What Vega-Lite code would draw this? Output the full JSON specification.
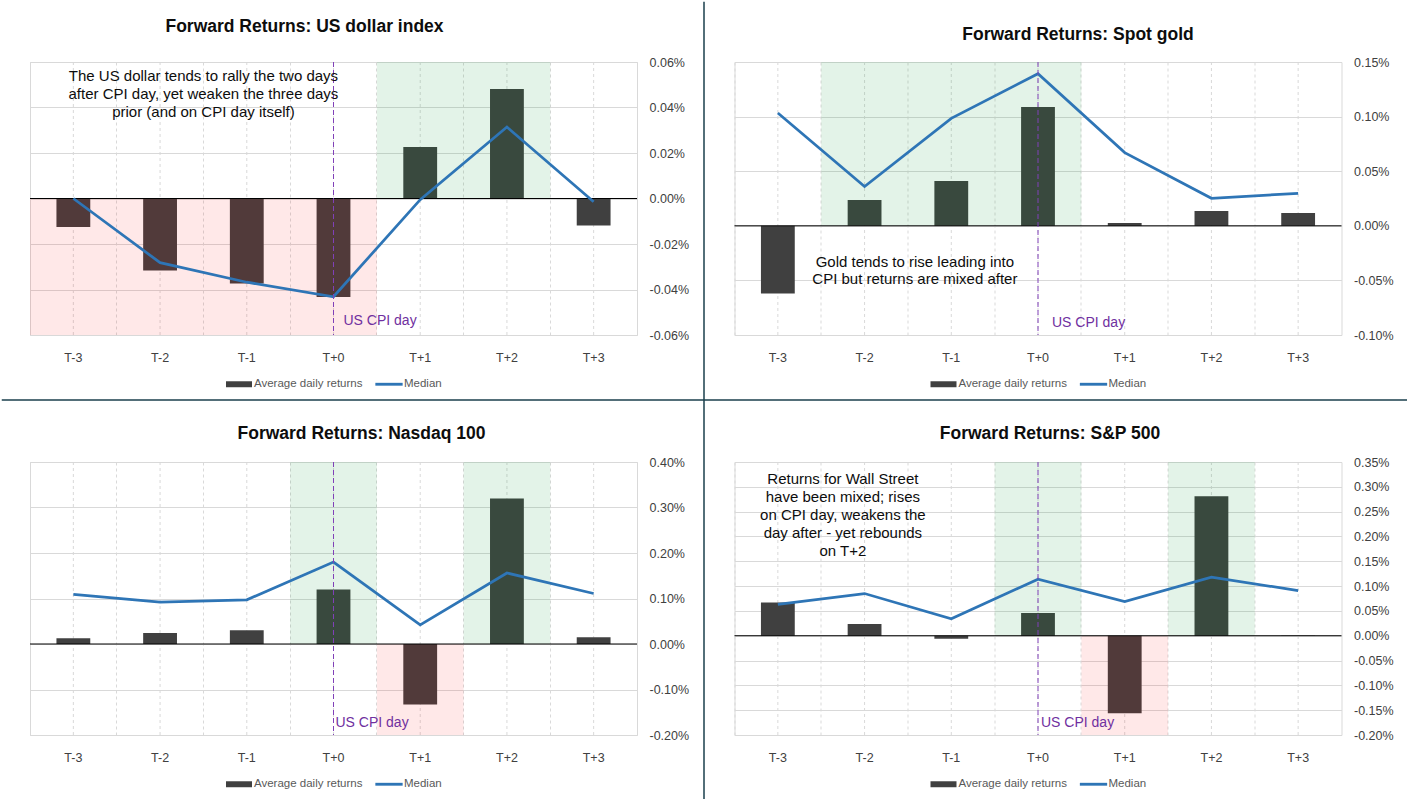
{
  "$schema": "https://vega.github.io/schema/vega-lite/v6.json",
  "background": "white",
  "padding": 0,
  "bounds": "flush",
  "spacing": 400,
  "resolve": {"scale": {"color": "independent", "x": "independent", "y": "independent"}, "legend": {"color": "independent"}},
  "vconcat": [
    {
      "hconcat": [
        {
          "width": 607, "height": 273,
          "title": {"text": "Forward Returns: US dollar index", "dx": -29, "offset": 21},
          "data": {"values": [
            {"day": "T-3", "avg": -0.000125, "median": 0.0, "zone": "down"},
            {"day": "T-2", "avg": -0.000316, "median": -0.000282, "zone": "down"},
            {"day": "T-1", "avg": -0.000374, "median": -0.000368, "zone": "down"},
            {"day": "T+0", "avg": -0.000433, "median": -0.000432, "zone": "down"},
            {"day": "T+1", "avg": 0.000226, "median": -0.000005, "zone": "up"},
            {"day": "T+2", "avg": 0.000481, "median": 0.000314, "zone": "up"},
            {"day": "T+3", "avg": -0.000119, "median": -0.000014}
          ]},
          "layer": [
            {"mark": {"type": "rule", "color": "#D9D9D9", "strokeDash": [3, 3], "strokeWidth": 1},
             "encoding": {"x": {"field": "day", "type": "nominal", "sort": null,
               "scale": {"domain": ["T-3", "T-2", "T-1", "T+0", "T+1", "T+2", "T+3"], "paddingInner": 0, "paddingOuter": 0},
               "axis": {"title": null, "orient": "bottom", "domain": false, "ticks": false, "labelPadding": 16, "labelAngle": 0, "grid": true, "gridColor": "#D9D9D9", "gridDash": [3, 3], "bandPosition": 0}}}},
            {"mark": {"type": "bar", "width": {"band": 0.39}},
             "encoding": {"x": {"field": "day", "type": "nominal", "sort": null},
               "y": {"field": "avg", "type": "quantitative", "scale": {"domain": [-0.0006, 0.0006], "nice": false, "zero": false},
                 "axis": {"title": null, "orient": "right", "values": [-0.0006, -0.0004, -0.0002, 0, 0.0002, 0.0004, 0.0006], "tickCount": 7, "format": ".2%", "domain": false, "ticks": false, "labelPadding": 12, "grid": true, "gridColor": "#D9D9D9"}},
               "color": {"datum": "Average daily returns", "type": "nominal",
                 "scale": {"domain": ["Average daily returns", "Median"], "range": ["#404040", "#2E75B6"]},
                 "legend": {"orient": "bottom", "direction": "horizontal", "title": null, "offset": 7, "symbolSize": 676, "symbolStrokeWidth": 0, "columnPadding": 12, "labelOffset": 2,
                   "encode": {"symbols": {"update": {
                     "shape": {"signal": "datum.value === 'Median' ? 'M-1.05,-0.11L1.05,-0.11L1.05,0.11L-1.05,0.11Z' : 'M-1,-0.23L1,-0.23L1,0.23L-1,0.23Z'"},
                     "fill": {"signal": "datum.value === 'Median' ? '#2E75B6' : '#404040'"},
                     "opacity": {"value": 1}}}}}}}},
            {"transform": [{"filter": "datum.zone === 'up'"}],
             "mark": {"type": "bar", "width": {"band": 1}, "color": "#009632", "opacity": 0.11},
             "encoding": {"x": {"field": "day", "type": "nominal", "sort": null}, "y": {"datum": 0.0006}, "y2": {"datum": 0}}},
            {"transform": [{"filter": "datum.zone === 'down'"}],
             "mark": {"type": "bar", "width": {"band": 1}, "color": "#FF0000", "opacity": 0.09},
             "encoding": {"x": {"field": "day", "type": "nominal", "sort": null}, "y": {"datum": -0.0006}, "y2": {"datum": 0}}},
            {"data": {"values": [{}]}, "mark": {"type": "rule", "color": "#000000", "strokeWidth": 1}, "encoding": {"y": {"datum": 0}}},
            {"mark": {"type": "line", "strokeWidth": 2.75},
             "encoding": {"x": {"field": "day", "type": "nominal", "sort": null}, "y": {"field": "median", "type": "quantitative"}, "color": {"datum": "Median", "type": "nominal"}}},
            {"data": {"values": [{}]}, "mark": {"type": "rule", "color": "#8040B8", "strokeDash": [5, 3], "strokeWidth": 1}, "encoding": {"x": {"datum": "T+0"}}},
            {"data": {"values": [{"note": "US CPI day"}]},
             "mark": {"type": "text", "align": "left", "baseline": "middle", "dx": 10, "color": "#7030A0", "fontSize": 14},
             "encoding": {"x": {"datum": "T+0"}, "y": {"datum": -0.000538}, "text": {"field": "note"}}},
            {"data": {"values": [{"note": ["The US dollar tends to rally the two days", "after CPI day, yet weaken the three days", "prior (and on CPI day itself)"]}]},
             "mark": {"type": "text", "align": "center", "baseline": "top", "lineHeight": 18, "fontSize": 15, "color": "#0D0D0D"},
             "encoding": {"x": {"datum": "T-1", "bandPosition": 0}, "y": {"datum": 0.000569}, "text": {"field": "note"}}},
            {"data": {"values": [{}]}, "mark": {"type": "rule", "color": "#1A3F4D", "strokeWidth": 1.5},
             "encoding": {"x": {"datum": "T-3", "bandPosition": -0.32578}, "x2": {"datum": "T-3", "bandPosition": 15.8827}, "y": {"datum": -0.0008857}}}
          ]
        },
        {
          "width": 607, "height": 273,
          "title": {"text": "Forward Returns: Spot gold", "dx": 40, "offset": -43},
          "data": {"values": [
            {"day": "T-3", "avg": -0.00062, "median": 0.001033},
            {"day": "T-2", "avg": 0.000236, "median": 0.00036, "zone": "up"},
            {"day": "T-1", "avg": 0.00041, "median": 0.000984, "zone": "up"},
            {"day": "T+0", "avg": 0.001088, "median": 0.001393, "zone": "up"},
            {"day": "T+1", "avg": 0.000026, "median": 0.00067},
            {"day": "T+2", "avg": 0.000136, "median": 0.000252},
            {"day": "T+3", "avg": 0.000117, "median": 0.000298}
          ]},
          "layer": [
            {"mark": {"type": "rule", "color": "#D9D9D9", "strokeDash": [3, 3], "strokeWidth": 1},
             "encoding": {"x": {"field": "day", "type": "nominal", "sort": null,
               "scale": {"domain": ["T-3", "T-2", "T-1", "T+0", "T+1", "T+2", "T+3"], "paddingInner": 0, "paddingOuter": 0},
               "axis": {"title": null, "orient": "bottom", "domain": false, "ticks": false, "labelPadding": 16, "labelAngle": 0, "grid": true, "gridColor": "#D9D9D9", "gridDash": [3, 3], "bandPosition": 0}}}},
            {"mark": {"type": "bar", "width": {"band": 0.39}},
             "encoding": {"x": {"field": "day", "type": "nominal", "sort": null},
               "y": {"field": "avg", "type": "quantitative", "scale": {"domain": [-0.001, 0.0015], "nice": false, "zero": false},
                 "axis": {"title": null, "orient": "right", "values": [-0.001, -0.0005, 0, 0.0005, 0.001, 0.0015], "tickCount": 6, "format": ".2%", "domain": false, "ticks": false, "labelPadding": 12, "grid": true, "gridColor": "#D9D9D9"}},
               "color": {"datum": "Average daily returns", "type": "nominal",
                 "scale": {"domain": ["Average daily returns", "Median"], "range": ["#404040", "#2E75B6"]},
                 "legend": {"orient": "bottom", "direction": "horizontal", "title": null, "offset": 7, "symbolSize": 676, "symbolStrokeWidth": 0, "columnPadding": 12, "labelOffset": 2,
                   "encode": {"symbols": {"update": {
                     "shape": {"signal": "datum.value === 'Median' ? 'M-1.05,-0.11L1.05,-0.11L1.05,0.11L-1.05,0.11Z' : 'M-1,-0.23L1,-0.23L1,0.23L-1,0.23Z'"},
                     "fill": {"signal": "datum.value === 'Median' ? '#2E75B6' : '#404040'"},
                     "opacity": {"value": 1}}}}}}}},
            {"transform": [{"filter": "datum.zone === 'up'"}],
             "mark": {"type": "bar", "width": {"band": 1}, "color": "#009632", "opacity": 0.11},
             "encoding": {"x": {"field": "day", "type": "nominal", "sort": null}, "y": {"datum": 0.0015}, "y2": {"datum": 0}}},
            {"data": {"values": [{}]}, "mark": {"type": "rule", "color": "#000000", "strokeWidth": 1}, "encoding": {"y": {"datum": 0}}},
            {"mark": {"type": "line", "strokeWidth": 2.75},
             "encoding": {"x": {"field": "day", "type": "nominal", "sort": null}, "y": {"field": "median", "type": "quantitative"}, "color": {"datum": "Median", "type": "nominal"}}},
            {"data": {"values": [{}]}, "mark": {"type": "rule", "color": "#8040B8", "strokeDash": [5, 3], "strokeWidth": 1}, "encoding": {"x": {"datum": "T+0"}}},
            {"data": {"values": [{"note": "US CPI day"}]},
             "mark": {"type": "text", "align": "left", "baseline": "middle", "dx": 14, "color": "#7030A0", "fontSize": 14},
             "encoding": {"x": {"datum": "T+0"}, "y": {"datum": -0.00089}, "text": {"field": "note"}}},
            {"data": {"values": [{"note": ["Gold tends to rise leading into", "CPI but returns are mixed after"]}]},
             "mark": {"type": "text", "align": "center", "baseline": "top", "lineHeight": 17.5, "fontSize": 15, "color": "#0D0D0D"},
             "encoding": {"x": {"datum": "T-1", "bandPosition": 0.08}, "y": {"datum": -0.000267}, "text": {"field": "note"}}},
            {"data": {"values": [{}]}, "mark": {"type": "rule", "color": "#1A3F4D", "strokeWidth": 1.5},
             "encoding": {"x": {"datum": "T-3", "bandPosition": -0.35173}, "y": {"datum": 0.00205174}, "y2": {"datum": -0.0052514}}}
          ]
        }
      ],
      "spacing": 97.5,
      "bounds": "flush",
      "resolve": {"scale": {"color": "independent", "x": "independent", "y": "independent"}, "legend": {"color": "independent"}}
    },
    {
      "hconcat": [
        {
          "width": 607, "height": 273,
          "title": {"text": "Forward Returns: Nasdaq 100", "dx": 28, "offset": 14},
          "data": {"values": [
            {"day": "T-3", "avg": 0.000125, "median": 0.00109},
            {"day": "T-2", "avg": 0.00024, "median": 0.00092},
            {"day": "T-1", "avg": 0.0003, "median": 0.00097},
            {"day": "T+0", "avg": 0.0012, "median": 0.0018, "zone": "up"},
            {"day": "T+1", "avg": -0.00133, "median": 0.00042, "zone": "down"},
            {"day": "T+2", "avg": 0.0032, "median": 0.00156, "zone": "up"},
            {"day": "T+3", "avg": 0.00015, "median": 0.00111}
          ]},
          "layer": [
            {"mark": {"type": "rule", "color": "#D9D9D9", "strokeDash": [3, 3], "strokeWidth": 1},
             "encoding": {"x": {"field": "day", "type": "nominal", "sort": null,
               "scale": {"domain": ["T-3", "T-2", "T-1", "T+0", "T+1", "T+2", "T+3"], "paddingInner": 0, "paddingOuter": 0},
               "axis": {"title": null, "orient": "bottom", "domain": false, "ticks": false, "labelPadding": 16, "labelAngle": 0, "grid": true, "gridColor": "#D9D9D9", "gridDash": [3, 3], "bandPosition": 0}}}},
            {"mark": {"type": "bar", "width": {"band": 0.39}},
             "encoding": {"x": {"field": "day", "type": "nominal", "sort": null},
               "y": {"field": "avg", "type": "quantitative", "scale": {"domain": [-0.002, 0.004], "nice": false, "zero": false},
                 "axis": {"title": null, "orient": "right", "values": [-0.002, -0.001, 0, 0.001, 0.002, 0.003, 0.004], "tickCount": 7, "format": ".2%", "domain": false, "ticks": false, "labelPadding": 12, "grid": true, "gridColor": "#D9D9D9"}},
               "color": {"datum": "Average daily returns", "type": "nominal",
                 "scale": {"domain": ["Average daily returns", "Median"], "range": ["#404040", "#2E75B6"]},
                 "legend": {"orient": "bottom", "direction": "horizontal", "title": null, "offset": 7, "symbolSize": 676, "symbolStrokeWidth": 0, "columnPadding": 12, "labelOffset": 2,
                   "encode": {"symbols": {"update": {
                     "shape": {"signal": "datum.value === 'Median' ? 'M-1.05,-0.11L1.05,-0.11L1.05,0.11L-1.05,0.11Z' : 'M-1,-0.23L1,-0.23L1,0.23L-1,0.23Z'"},
                     "fill": {"signal": "datum.value === 'Median' ? '#2E75B6' : '#404040'"},
                     "opacity": {"value": 1}}}}}}}},
            {"transform": [{"filter": "datum.zone === 'up'"}],
             "mark": {"type": "bar", "width": {"band": 1}, "color": "#009632", "opacity": 0.11},
             "encoding": {"x": {"field": "day", "type": "nominal", "sort": null}, "y": {"datum": 0.004}, "y2": {"datum": 0}}},
            {"transform": [{"filter": "datum.zone === 'down'"}],
             "mark": {"type": "bar", "width": {"band": 1}, "color": "#FF0000", "opacity": 0.09},
             "encoding": {"x": {"field": "day", "type": "nominal", "sort": null}, "y": {"datum": -0.002}, "y2": {"datum": 0}}},
            {"data": {"values": [{}]}, "mark": {"type": "rule", "color": "#000000", "strokeWidth": 1}, "encoding": {"y": {"datum": 0}}},
            {"mark": {"type": "line", "strokeWidth": 2.75},
             "encoding": {"x": {"field": "day", "type": "nominal", "sort": null}, "y": {"field": "median", "type": "quantitative"}, "color": {"datum": "Median", "type": "nominal"}}},
            {"data": {"values": [{}]}, "mark": {"type": "rule", "color": "#8040B8", "strokeDash": [5, 3], "strokeWidth": 1}, "encoding": {"x": {"datum": "T+0"}}},
            {"data": {"values": [{"note": "US CPI day"}]},
             "mark": {"type": "text", "align": "left", "baseline": "middle", "dx": 2, "color": "#7030A0", "fontSize": 14},
             "encoding": {"x": {"datum": "T+0"}, "y": {"datum": -0.001736}, "text": {"field": "note"}}}
          ]
        },
        {
          "width": 607, "height": 273,
          "title": {"text": "Forward Returns: S&P 500", "dx": 12, "offset": 14},
          "data": {"values": [
            {"day": "T-3", "avg": 0.00067, "median": 0.00063},
            {"day": "T-2", "avg": 0.000236, "median": 0.00085},
            {"day": "T-1", "avg": -0.00006, "median": 0.00034},
            {"day": "T+0", "avg": 0.000457, "median": 0.00114, "zone": "up"},
            {"day": "T+1", "avg": -0.00156, "median": 0.00069, "zone": "down"},
            {"day": "T+2", "avg": 0.00281, "median": 0.00118, "zone": "up"},
            {"day": "T+3", "avg": -0.000008, "median": 0.00091}
          ]},
          "layer": [
            {"mark": {"type": "rule", "color": "#D9D9D9", "strokeDash": [3, 3], "strokeWidth": 1},
             "encoding": {"x": {"field": "day", "type": "nominal", "sort": null,
               "scale": {"domain": ["T-3", "T-2", "T-1", "T+0", "T+1", "T+2", "T+3"], "paddingInner": 0, "paddingOuter": 0},
               "axis": {"title": null, "orient": "bottom", "domain": false, "ticks": false, "labelPadding": 16, "labelAngle": 0, "grid": true, "gridColor": "#D9D9D9", "gridDash": [3, 3], "bandPosition": 0}}}},
            {"mark": {"type": "bar", "width": {"band": 0.39}},
             "encoding": {"x": {"field": "day", "type": "nominal", "sort": null},
               "y": {"field": "avg", "type": "quantitative", "scale": {"domain": [-0.002, 0.0035], "nice": false, "zero": false},
                 "axis": {"title": null, "orient": "right", "values": [-0.002, -0.0015, -0.001, -0.0005, 0, 0.0005, 0.001, 0.0015, 0.002, 0.0025, 0.003, 0.0035], "tickCount": 12, "format": ".2%", "domain": false, "ticks": false, "labelPadding": 12, "grid": true, "gridColor": "#D9D9D9"}},
               "color": {"datum": "Average daily returns", "type": "nominal",
                 "scale": {"domain": ["Average daily returns", "Median"], "range": ["#404040", "#2E75B6"]},
                 "legend": {"orient": "bottom", "direction": "horizontal", "title": null, "offset": 7, "symbolSize": 676, "symbolStrokeWidth": 0, "columnPadding": 12, "labelOffset": 2,
                   "encode": {"symbols": {"update": {
                     "shape": {"signal": "datum.value === 'Median' ? 'M-1.05,-0.11L1.05,-0.11L1.05,0.11L-1.05,0.11Z' : 'M-1,-0.23L1,-0.23L1,0.23L-1,0.23Z'"},
                     "fill": {"signal": "datum.value === 'Median' ? '#2E75B6' : '#404040'"},
                     "opacity": {"value": 1}}}}}}}},
            {"transform": [{"filter": "datum.zone === 'up'"}],
             "mark": {"type": "bar", "width": {"band": 1}, "color": "#009632", "opacity": 0.11},
             "encoding": {"x": {"field": "day", "type": "nominal", "sort": null}, "y": {"datum": 0.0035}, "y2": {"datum": 0}}},
            {"transform": [{"filter": "datum.zone === 'down'"}],
             "mark": {"type": "bar", "width": {"band": 1}, "color": "#FF0000", "opacity": 0.09},
             "encoding": {"x": {"field": "day", "type": "nominal", "sort": null}, "y": {"datum": -0.002}, "y2": {"datum": 0}}},
            {"data": {"values": [{}]}, "mark": {"type": "rule", "color": "#000000", "strokeWidth": 1}, "encoding": {"y": {"datum": 0}}},
            {"mark": {"type": "line", "strokeWidth": 2.75},
             "encoding": {"x": {"field": "day", "type": "nominal", "sort": null}, "y": {"field": "median", "type": "quantitative"}, "color": {"datum": "Median", "type": "nominal"}}},
            {"data": {"values": [{}]}, "mark": {"type": "rule", "color": "#8040B8", "strokeDash": [5, 3], "strokeWidth": 1}, "encoding": {"x": {"datum": "T+0"}}},
            {"data": {"values": [{"note": "US CPI day"}]},
             "mark": {"type": "text", "align": "left", "baseline": "middle", "dx": 3, "color": "#7030A0", "fontSize": 14},
             "encoding": {"x": {"datum": "T+0"}, "y": {"datum": -0.001758}, "text": {"field": "note"}}},
            {"data": {"values": [{"note": ["Returns for Wall Street", "have been mixed; rises", "on CPI day, weakens the", "day after - yet rebounds", "on T+2"]}]},
             "mark": {"type": "text", "align": "center", "baseline": "top", "lineHeight": 18, "fontSize": 15, "color": "#0D0D0D"},
             "encoding": {"x": {"datum": "T-2", "bandPosition": 0.25}, "y": {"datum": 0.0033}, "text": {"field": "note"}}}
          ]
        }
      ],
      "spacing": 97.5,
      "bounds": "flush",
      "resolve": {"scale": {"color": "independent", "x": "independent", "y": "independent"}, "legend": {"color": "independent"}}
    }
  ],
  "config": {
    "font": "Liberation Sans",
    "locale": {"number": {"decimal": ".", "thousands": ",", "grouping": [3], "currency": ["$", ""], "minus": "-"}},
    "view": {"stroke": "#D9D9D9", "strokeWidth": 1},
    "title": {"fontSize": 17.5, "fontWeight": "bold", "color": "#0D0D0D", "anchor": "middle", "frame": "group"},
    "axis": {"labelFontSize": 12.5, "labelColor": "#404040", "labelFont": "Liberation Sans", "labelOverlap": false},
    "legend": {"labelFontSize": 11.5, "labelColor": "#595959", "labelFont": "Liberation Sans", "layout": {"bottom": {"anchor": "middle"}}}
  }
}
